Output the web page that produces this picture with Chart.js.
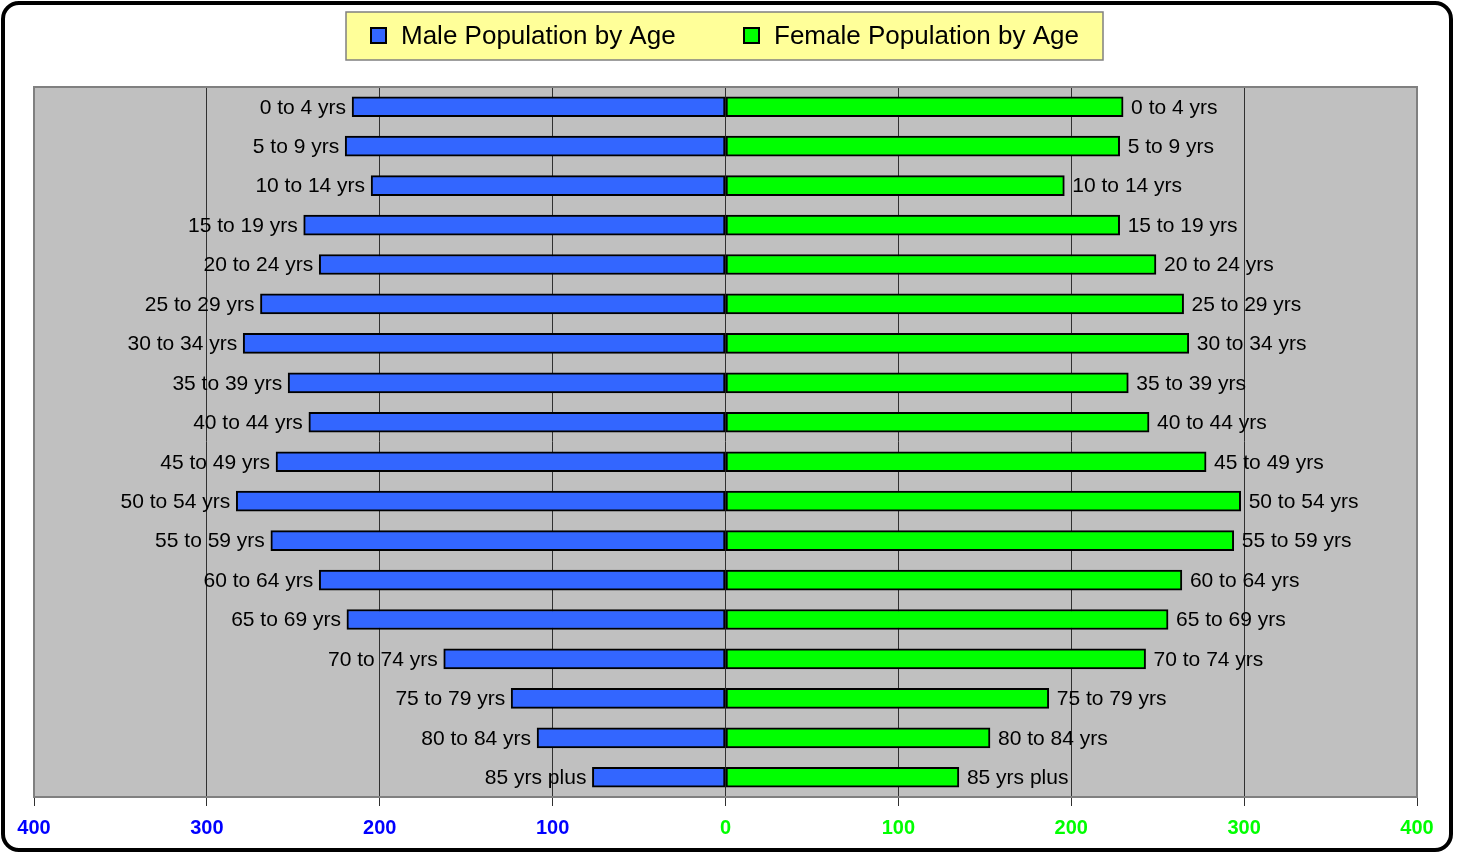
<!DOCTYPE html>
<html>
<head>
<meta charset="utf-8">
<script src="https://cdn.jsdelivr.net/npm/chart.js@4/dist/chart.umd.min.js"></script>
<style>
    html, body { margin: 0; padding: 0; background: #fff; }
    #wrap { width: 1460px; height: 852px; }
</style>
</head>
<body>
<div id="wrap"><canvas id="pyramid" width="1460" height="852"></canvas></div>
<script>
// Data
const ageGroups = ['0 to 4 yrs', '5 to 9 yrs', '10 to 14 yrs', '15 to 19 yrs', '20 to 24 yrs',
    '25 to 29 yrs', '30 to 34 yrs', '35 to 39 yrs', '40 to 44 yrs', '45 to 49 yrs',
    '50 to 54 yrs', '55 to 59 yrs', '60 to 64 yrs', '65 to 69 yrs', '70 to 74 yrs',
    '75 to 79 yrs', '80 to 84 yrs', '85 yrs plus'];
const maleValues = [216, 220, 205, 244, 235, 269, 279, 253, 241, 260, 283, 263, 235, 219, 163, 124, 109, 77];
const femaleValues = [230, 228, 196, 228, 249, 265, 268, 233, 245, 278, 298, 294, 264, 256, 243, 187, 153, 135];
const axisTicks = [-400, -300, -200, -100, 0, 100, 200, 300, 400];
const legendNames = ['Male Population by Age', 'Female Population by Age'];

const MALE_COLOR = '#3366FF';
const FEMALE_COLOR = '#00FF00';
const FONT = '"Liberation Sans", Arial, sans-serif';

// Frame, plot background and legend
const backdropPlugin = {
    id: 'backdrop',
    beforeDraw(chart) {
        const ctx = chart.ctx;
        const area = chart.chartArea;
        ctx.save();
        ctx.fillStyle = '#fff';
        ctx.fillRect(0, 0, chart.width, chart.height);

        // outer rounded frame
        ctx.lineWidth = 4;
        ctx.strokeStyle = '#000';
        ctx.beginPath();
        ctx.roundRect(3, 3, chart.width - 12, chart.height - 5, 16);
        ctx.stroke();

        // plot area
        ctx.fillStyle = '#C0C0C0';
        ctx.fillRect(area.left, area.top, area.right - area.left, area.bottom - area.top);
        ctx.restore();
    },
    afterDraw(chart) {
        const ctx = chart.ctx;
        const area = chart.chartArea;
        ctx.save();
        ctx.strokeStyle = '#808080';
        ctx.lineWidth = 2;
        ctx.strokeRect(area.left, area.top, area.right - area.left, area.bottom - area.top);

        // legend box
        ctx.fillStyle = '#FFFF99';
        ctx.fillRect(346, 12, 757, 48);
        ctx.strokeStyle = '#808080';
        ctx.lineWidth = 1.5;
        ctx.strokeRect(346, 12, 757, 48);

        ctx.font = '26px ' + FONT;
        ctx.textBaseline = 'middle';
        const items = [
            { x: 371, text: legendNames[0], color: MALE_COLOR },
            { x: 744, text: legendNames[1], color: FEMALE_COLOR }
        ];
        items.forEach(it => {
            ctx.fillStyle = it.color;
            ctx.fillRect(it.x, 28, 15, 15);
            ctx.strokeStyle = '#000';
            ctx.lineWidth = 2;
            ctx.strokeRect(it.x, 28, 15, 15);
            ctx.fillStyle = '#000';
            ctx.fillText(it.text, it.x + 30, 37);
        });
        ctx.restore();
    }
};

// Category names at the ends of the bars
const endLabelPlugin = {
    id: 'endLabels',
    afterDatasetsDraw(chart) {
        const ctx = chart.ctx;
        ctx.save();
        ctx.font = '21px ' + FONT;
        ctx.fillStyle = '#000';
        ctx.textBaseline = 'middle';
        chart.data.datasets.forEach((ds, di) => {
            const meta = chart.getDatasetMeta(di);
            meta.data.forEach((bar, i) => {
                const label = chart.data.labels[i];
                if (di === 0) {
                    ctx.textAlign = 'right';
                    ctx.fillText(label, bar.x - 6, bar.y + 1);
                } else {
                    ctx.textAlign = 'left';
                    ctx.fillText(label, bar.x + 8, bar.y + 1);
                }
            });
        });
        ctx.restore();
    }
};

new Chart(document.getElementById('pyramid'), {
    type: 'bar',
    data: {
        labels: ageGroups,
        datasets: [
            {
                label: legendNames[0],
                data: maleValues.map(v => -v),
                backgroundColor: MALE_COLOR,
                borderColor: '#000',
                borderWidth: 2,
                borderSkipped: false,
                barThickness: 20
            },
            {
                label: legendNames[1],
                data: femaleValues,
                backgroundColor: FEMALE_COLOR,
                borderColor: '#000',
                borderWidth: 2,
                borderSkipped: false,
                barThickness: 20
            }
        ]
    },
    options: {
        indexAxis: 'y',
        responsive: false,
        animation: false,
        layout: {
            padding: { left: 34, right: 43, top: 87, bottom: 2 }
        },
        scales: {
            x: {
                stacked: true,
                min: axisTicks[0],
                max: axisTicks[axisTicks.length - 1],
                afterBuildTicks: axis => {
                    axis.ticks = axisTicks.map(v => ({ value: v }));
                },
                border: { color: '#606060', width: 1.5 },
                grid: {
                    color: c => (Math.abs(c.tick.value) === 400 ? '#808080' : '#303030'),
                    lineWidth: 1,
                    tickLength: 9,
                    tickColor: '#303030'
                },
                ticks: {
                    callback: v => Math.abs(v),
                    color: c => (c.tick.value < 0 ? '#0000FF' : '#00FF00'),
                    font: { family: FONT, size: 20, weight: 'bold' },
                    padding: 10,
                    maxRotation: 0
                }
            },
            y: {
                stacked: true,
                display: false
            }
        },
        plugins: {
            legend: { display: false },
            tooltip: { enabled: false }
        }
    },
    plugins: [backdropPlugin, endLabelPlugin]
});
</script>
</body>
</html>
